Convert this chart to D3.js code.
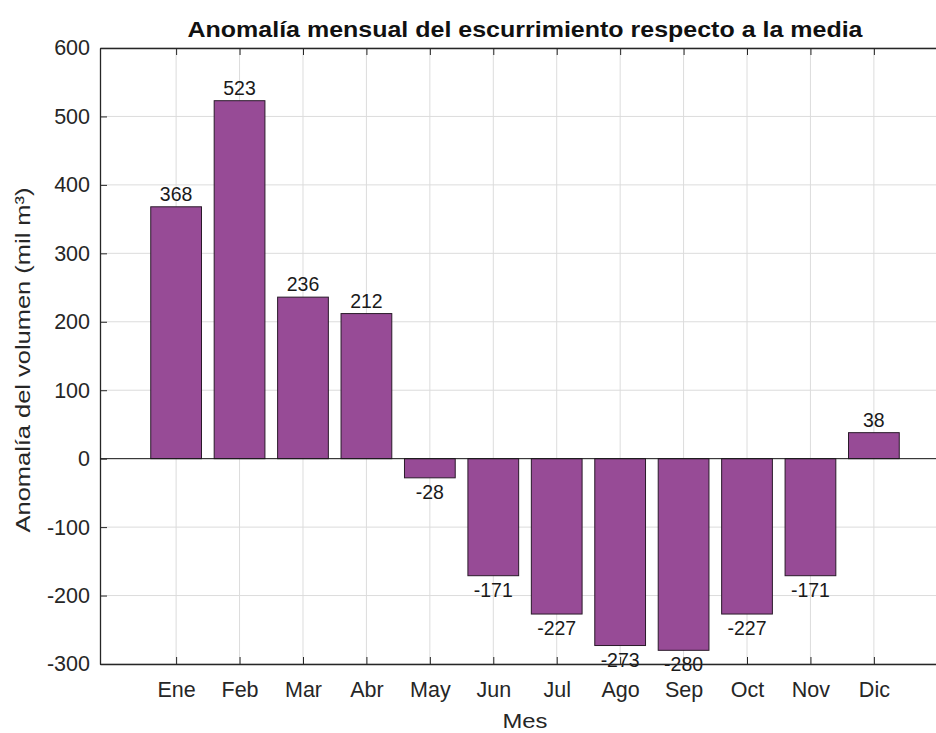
<!DOCTYPE html>
<html>
<head>
<meta charset="utf-8">
<script src="https://cdn.jsdelivr.net/npm/d3@7"></script>
<style>
  body { margin: 0; background: #fff; }
  svg text { font-family: "Liberation Sans", Arial, Helvetica, sans-serif; }
</style>
</head>
<body>
<div id="chart"></div>
<script>
const months = ['Ene', 'Feb', 'Mar', 'Abr', 'May', 'Jun', 'Jul', 'Ago', 'Sep', 'Oct', 'Nov', 'Dic']
const anomalies = [368, 523, 236, 212, -28, -171, -227, -273, -280, -227, -171, 38]
const yTicks = [-300, -200, -100, 0, 100, 200, 300, 400, 500, 600]

const margin = { top: 48, left: 100, right: -14, bottom: 69 }
const svgW = 936
const svgH = 733
const width = svgW - margin.left - margin.right
const height = svgH - margin.top - margin.bottom

const svg = d3.select('#chart')
  .append('svg')
  .attr('width', svgW)
  .attr('height', svgH)

const g = svg.append('g')
  .attr('transform', 'translate(' + margin.left + ',' + margin.top + ')')

// categorical axis in MATLAB style: index space with 1.2 padding each side
const x = d3.scaleLinear()
  .domain([-1.2, months.length - 1 + 1.2])
  .range([0, width])

const y = d3.scaleLinear()
  .domain([-300, 600])
  .range([height, 0])

const barW = (x(1) - x(0)) * 0.8

// grid
g.append('g')
  .selectAll('line')
  .data(yTicks)
  .enter()
  .append('line')
  .attr('x1', 0)
  .attr('x2', width)
  .attr('y1', d => y(d))
  .attr('y2', d => y(d))
  .attr('stroke', '#dcdcdc')
  .attr('stroke-width', 1)

g.append('g')
  .selectAll('line')
  .data(months)
  .enter()
  .append('line')
  .attr('x1', (d, i) => x(i))
  .attr('x2', (d, i) => x(i))
  .attr('y1', 0)
  .attr('y2', height)
  .attr('stroke', '#dcdcdc')
  .attr('stroke-width', 1)

// bars
g.selectAll('.bar')
  .data(anomalies)
  .enter()
  .append('rect')
  .attr('class', 'bar')
  .attr('x', (d, i) => x(i) - barW / 2)
  .attr('y', d => y(Math.max(0, d)))
  .attr('width', barW)
  .attr('height', d => Math.abs(y(d) - y(0)))
  .attr('fill', '#974b96')
  .attr('stroke', '#2a1a2a')
  .attr('stroke-width', 1)

// value labels
g.selectAll('.val')
  .data(anomalies)
  .enter()
  .append('text')
  .attr('class', 'val')
  .attr('x', (d, i) => x(i))
  .attr('y', d => d >= 0 ? y(d) - 6 : y(d) + 21)
  .attr('text-anchor', 'middle')
  .attr('font-size', 19.5)
  .attr('fill', '#1a1a1a')
  .text(d => String(d))

// axes
const axisColor = '#262626'
const yAxis = d3.axisLeft(y)
  .tickValues(yTicks)
  .tickFormat(d => String(d))
  .tickSizeInner(-7).tickSizeOuter(0).tickPadding(10)
g.append('g')
  .attr('class', 'axis y-axis')
  .call(yAxis)

const xAxis = d3.axisBottom(x)
  .tickValues(d3.range(months.length))
  .tickFormat(i => months[i])
  .tickSizeInner(-7).tickSizeOuter(0).tickPadding(18)
g.append('g')
  .attr('class', 'axis x-axis')
  .attr('transform', 'translate(0,' + height + ')')
  .call(xAxis)

const xTop = d3.axisTop(x)
  .tickValues(d3.range(months.length))
  .tickFormat('')
  .tickSizeInner(-7).tickSizeOuter(0)
g.append('g')
  .attr('class', 'axis x-top')
  .call(xTop)

g.selectAll('.axis path').attr('stroke', axisColor).attr('stroke-width', 1.3)
g.selectAll('.axis line').attr('stroke', axisColor)
g.selectAll('.axis text')
  .attr('font-size', 21.5)
  .attr('fill', axisColor)
  .style('font-family', '"Liberation Sans", Arial, sans-serif')

// zero line
g.append('line')
  .attr('x1', 0)
  .attr('x2', width)
  .attr('y1', y(0))
  .attr('y2', y(0))
  .attr('stroke', '#1a1a1a')
  .attr('stroke-width', 1)

// title & labels
svg.append('text')
  .attr('x', 525)
  .attr('y', 37)
  .attr('text-anchor', 'middle')
  .attr('font-size', 22)
  .attr('font-weight', 'bold')
  .attr('fill', '#111')
  .attr('textLength', 675)
  .attr('lengthAdjust', 'spacingAndGlyphs')
  .text('Anomalía mensual del escurrimiento respecto a la media')

svg.append('text')
  .attr('x', 525)
  .attr('y', 728)
  .attr('text-anchor', 'middle')
  .attr('font-size', 21)
  .attr('fill', axisColor)
  .attr('textLength', 45)
  .attr('lengthAdjust', 'spacingAndGlyphs')
  .text('Mes')

svg.append('text')
  .attr('transform', 'translate(30,360) rotate(-90)')
  .attr('text-anchor', 'middle')
  .attr('font-size', 21)
  .attr('fill', axisColor)
  .attr('textLength', 345)
  .attr('lengthAdjust', 'spacingAndGlyphs')
  .text('Anomalía del volumen (mil m³)')
</script>
</body>
</html>
